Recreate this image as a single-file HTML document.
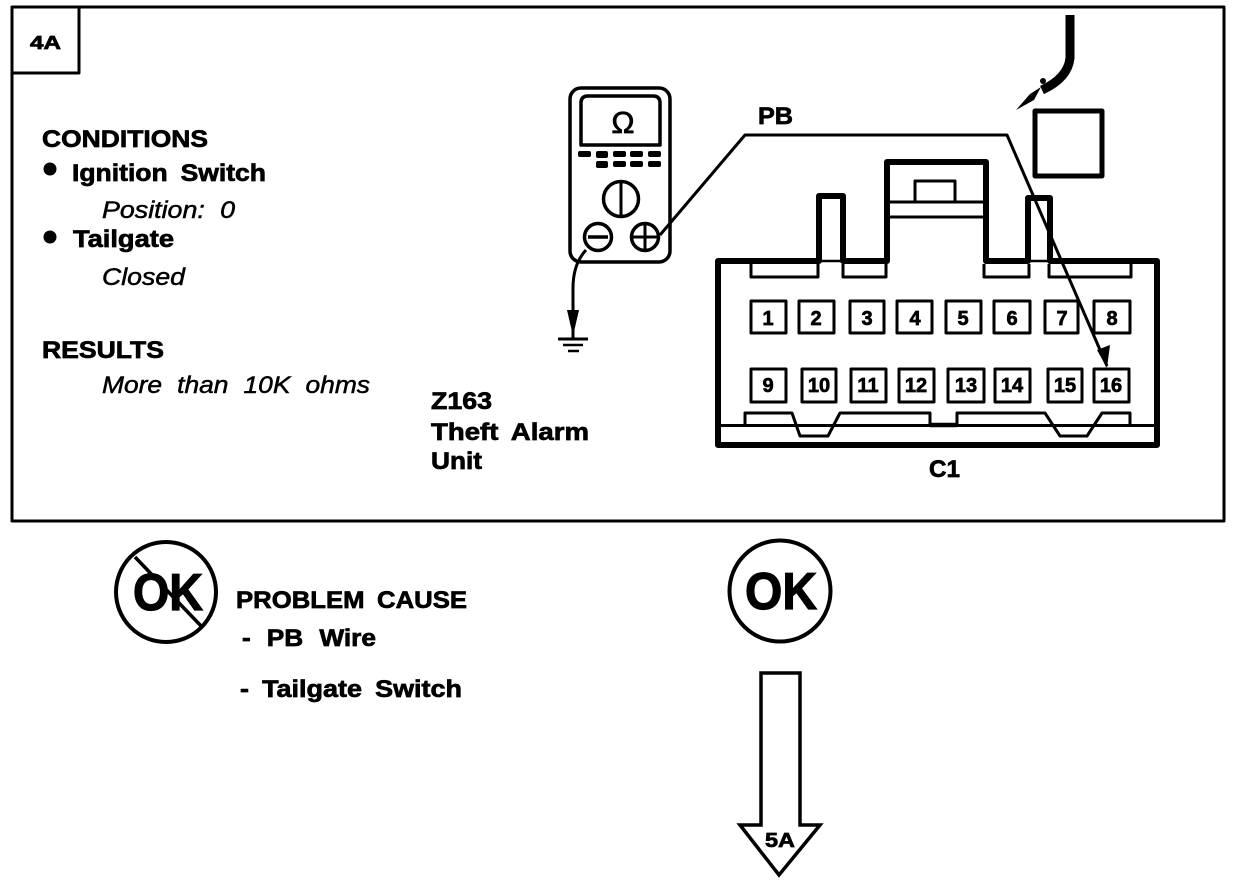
<!DOCTYPE html>
<html><head><meta charset="utf-8"><style>
html,body{margin:0;padding:0;background:#fff}
svg{display:block}
text{font-family:"Liberation Sans",sans-serif;font-weight:bold;fill:#000;stroke:#000;stroke-width:.7;word-spacing:5px}
.i{font-style:italic;font-weight:normal;stroke-width:.5;word-spacing:7px}
.n{font-size:20px;text-anchor:middle}
</style></head><body>
<svg width="1248" height="884" viewBox="0 0 1248 884" xmlns="http://www.w3.org/2000/svg">
<rect width="1248" height="884" fill="#fff"/>
<g fill="none" stroke="#000" stroke-linejoin="round">
<!-- frame -->
<rect x="12" y="7" width="1212" height="514" stroke-width="3"/>
<path d="M12 73H79V7" stroke-width="3"/>
<!-- meter -->
<rect x="570" y="88" width="100" height="174" rx="11" stroke-width="3.500"/>
<path d="M581 145V103Q581 96 588 96H653Q660 96 660 103V145Z" stroke-width="3.500"/>
<circle cx="621" cy="199" r="17.500" stroke-width="3.500"/>
<path d="M621 182V216" stroke-width="3"/>
<circle cx="598" cy="237" r="13.500" stroke-width="3.500"/>
<path d="M588 237H608" stroke-width="3.500"/>
<circle cx="645" cy="237" r="13.500" stroke-width="3.500"/>
<path d="M632 237H658M645 224V250" stroke-width="3"/>
<!-- wires -->
<path d="M660 235L745 135H1007L1107 366" stroke-width="3"/>
<path d="M586 250Q573 264 573 288V338" stroke-width="3"/>
<path d="M558 339H588" stroke-width="3"/>
<path d="M563 345H583" stroke-width="2.500"/>
<path d="M568 351H579" stroke-width="2.500"/>
<!-- square + cable -->
<rect x="1035" y="111" width="67" height="65" stroke-width="5"/>
<path d="M1070 15V58Q1068 78 1042 90" stroke-width="9"/>
<!-- connector outer -->
<path d="M718 261H819V196H843V261H887V162H986V261H1028V198H1050V261H1157V445H718Z" stroke-width="6"/>
<path d="M819 261H843M1028 261H1050" stroke-width="2.500"/>
<path d="M887 202H986M887 217H986" stroke-width="3"/>
<path d="M915 202V181H955V202" stroke-width="3"/>
<path d="M751 264V277H818V264M843 264V277H886V264M984 264V277H1029V264M1049 264V277H1131V264" stroke-width="3"/>
<!-- lower keying -->
<path d="M745 425V413H792L800 436H828L840 413H930V425M957 425V413H1045L1060 436H1087L1102 413H1130V425" stroke-width="3"/>
<path d="M718 425.500H1157" stroke-width="3"/>
<path d="M930 425H957" stroke-width="4.500"/>
<!-- pins -->
<g stroke-width="3">
<rect x="751" y="301" width="35" height="32"/><rect x="799" y="301" width="35" height="32"/><rect x="850" y="301" width="34" height="32"/><rect x="897" y="301" width="35" height="32"/><rect x="946" y="301" width="35" height="32"/><rect x="994" y="301" width="36" height="32"/><rect x="1045" y="301" width="33" height="32"/><rect x="1094" y="301" width="36" height="32"/>
<rect x="751" y="369" width="35" height="33"/><rect x="802" y="369" width="34" height="33"/><rect x="851" y="369" width="35" height="33"/><rect x="899" y="369" width="35" height="33"/><rect x="948" y="369" width="36" height="33"/><rect x="995" y="369" width="35" height="33"/><rect x="1048" y="369" width="34" height="33"/><rect x="1094" y="369" width="35" height="33"/>
</g>
<!-- OK circles -->
<circle cx="166" cy="592" r="50" stroke-width="4"/>
<path d="M135 557L202 627" stroke-width="3.500"/>
<circle cx="780" cy="591" r="50.500" stroke-width="4"/>
<!-- big arrow -->
<path d="M761 673H800V825H820L779 875L740 825H761Z" stroke-width="3.500" stroke-linejoin="miter"/>
</g>
<g fill="#000">
<rect x="578" y="151" width="13" height="6" rx="2"/><rect x="596" y="151" width="12" height="7" rx="2"/><rect x="613" y="151" width="13" height="6" rx="2"/><rect x="630" y="151" width="13" height="6" rx="2"/><rect x="648" y="151" width="13" height="6" rx="2"/>
<rect x="596" y="161" width="12" height="7" rx="2"/><rect x="613" y="161" width="13" height="6" rx="2"/><rect x="630" y="161" width="13" height="6" rx="2"/><rect x="648" y="161" width="13" height="6" rx="2"/>
<path d="M567 310H579L573 336Z"/>
<path d="M1107 368L1097 350L1110 345Z"/>
<path d="M1016 110L1030 94L1041 87L1034 100Z"/>
<circle cx="1043" cy="81" r="3"/>
<circle cx="50" cy="169" r="6.500"/>
<circle cx="50" cy="237" r="6.500"/>
</g>
<text x="30" y="49" font-size="18" textLength="31" lengthAdjust="spacingAndGlyphs">4A</text>
<text x="42" y="147" font-size="24" textLength="166" lengthAdjust="spacingAndGlyphs">CONDITIONS</text>
<text x="72" y="181" font-size="24" textLength="194" lengthAdjust="spacingAndGlyphs">Ignition Switch</text>
<text class="i" x="102" y="218" font-size="24" textLength="133" lengthAdjust="spacingAndGlyphs">Position: 0</text>
<text x="73" y="247" font-size="24" textLength="101" lengthAdjust="spacingAndGlyphs">Tailgate</text>
<text class="i" x="102" y="285" font-size="24" textLength="83" lengthAdjust="spacingAndGlyphs">Closed</text>
<text x="42" y="358" font-size="24" textLength="122" lengthAdjust="spacingAndGlyphs">RESULTS</text>
<text class="i" x="102" y="393" font-size="24" textLength="268" lengthAdjust="spacingAndGlyphs">More than 10K ohms</text>
<text x="431" y="409" font-size="24" textLength="61" lengthAdjust="spacingAndGlyphs">Z163</text>
<text x="431" y="440" font-size="24" textLength="158" lengthAdjust="spacingAndGlyphs">Theft Alarm</text>
<text x="431" y="469" font-size="24" textLength="51" lengthAdjust="spacingAndGlyphs">Unit</text>
<text x="758" y="124" font-size="24" textLength="35" lengthAdjust="spacingAndGlyphs">PB</text>
<text x="929" y="477" font-size="24" textLength="31" lengthAdjust="spacingAndGlyphs">C1</text>
<text x="236" y="608" font-size="24" textLength="231" lengthAdjust="spacingAndGlyphs">PROBLEM CAUSE</text>
<text x="242" y="646" font-size="24" textLength="134" lengthAdjust="spacingAndGlyphs" style="word-spacing:8px">- PB Wire</text>
<text x="240" y="697" font-size="24" textLength="222" lengthAdjust="spacingAndGlyphs">- Tailgate Switch</text>
<text x="133" y="610" font-size="52" textLength="70" lengthAdjust="spacingAndGlyphs" style="stroke-width:1.200">OK</text>
<text x="745" y="609" font-size="52" textLength="72" lengthAdjust="spacingAndGlyphs" style="stroke-width:1.200">OK</text>
<text x="765" y="847" font-size="20" textLength="30" lengthAdjust="spacingAndGlyphs">5A</text>
<text x="623" y="133" font-size="31" text-anchor="middle" style="font-weight:normal">Ω</text>
<g>
<text class="n" x="768" y="325">1</text><text class="n" x="816" y="325">2</text><text class="n" x="867" y="325">3</text><text class="n" x="915" y="325">4</text><text class="n" x="963" y="325">5</text><text class="n" x="1012" y="325">6</text><text class="n" x="1062" y="325">7</text><text class="n" x="1112" y="325">8</text>
<text class="n" x="768" y="392">9</text><text class="n" x="819" y="392">10</text><text class="n" x="868" y="392">11</text><text class="n" x="916" y="392">12</text><text class="n" x="966" y="392">13</text><text class="n" x="1012" y="392">14</text><text class="n" x="1065" y="392">15</text><text class="n" x="1111" y="392">16</text>
</g>
</svg>
</body></html>
